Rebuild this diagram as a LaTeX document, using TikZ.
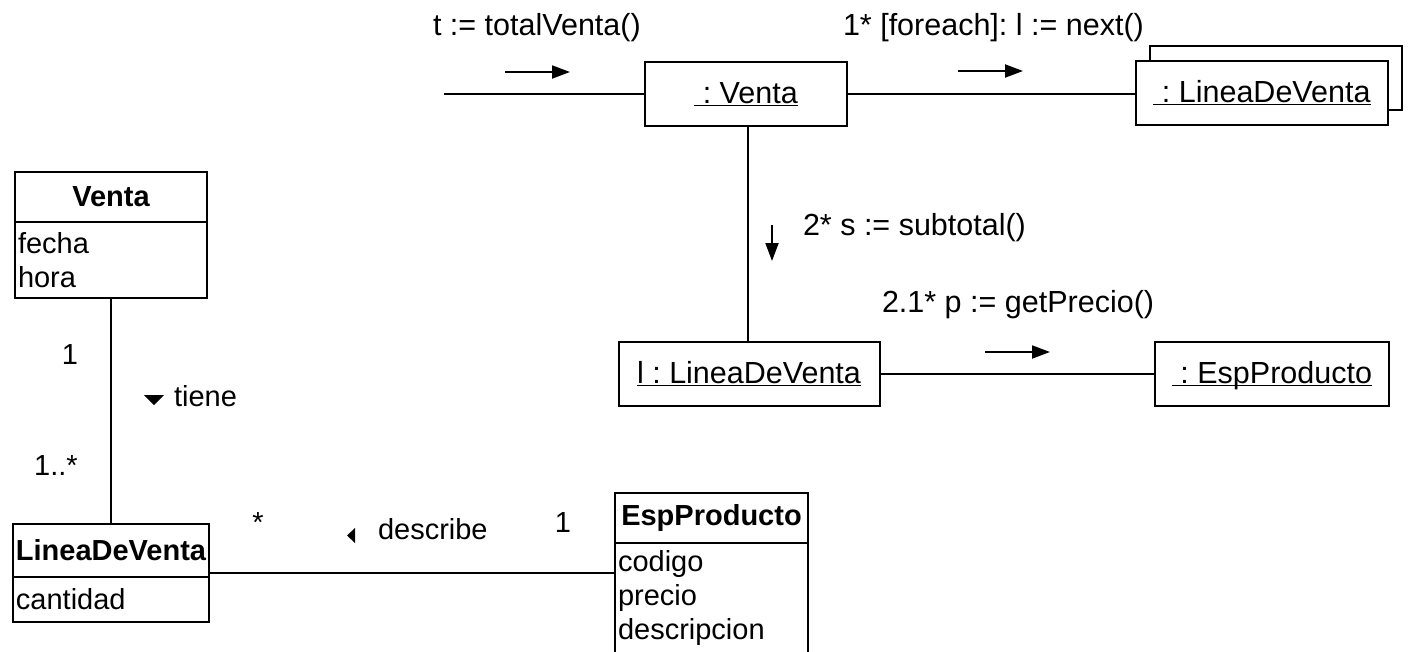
\documentclass[tikz,border=0pt]{standalone}
\usepackage{fontspec}
\setmainfont{Liberation Sans}
\usetikzlibrary{arrows.meta,positioning}
\frenchspacing

\newcommand{\objname}[1]{\underline{\smash{#1}\vphantom{A}}}

\begin{document}
\begin{tikzpicture}[x=1pt, y=-1pt, line width=2pt,
    every node/.style={font=\fontsize{29}{34}\selectfont, inner sep=0pt, outer sep=0pt},
    obj/.style={draw, fill=white, minimum width=#1, minimum height=64, font=\fontsize{30.5}{34}\selectfont},
    classhead/.style={draw, anchor=north west, font=\fontsize{29}{34}\selectfont\bfseries},
    classbody/.style={draw, anchor=north west, align=left, inner xsep=3pt},
    msg/.style={-{Triangle[length=18pt,width=13pt]}},
    lbl/.style={anchor=base west},
    msglbl/.style={anchor=base west, font=\fontsize{30.5}{34}\selectfont}]
    \useasboundingbox (0,0) rectangle (1408,651);

    % objetos de la colaboracion
    \node[obj=202] (venta) at (746,94) {\objname{\ : Venta}};
    \node[obj=252, anchor=north west] (lineasfondo) at (1150,46) {};
    \node[obj=252, anchor=north west] (lineas) at (1136,61) {\objname{\ : LineaDeVenta}};
    \node[obj=261] (linea) at (749,374) {\objname{l : LineaDeVenta}};
    \node[obj=234] (esp) at (1272,374) {\objname{\ : EspProducto}};
    \coordinate (inicio) at (444,94);

    \draw (inicio) -- (venta);
    \draw (venta) -- (venta -| lineas.west);
    \draw (venta.south -| 748,0) -- (linea.north -| 748,0);
    \draw (linea) -- (esp);

    % mensajes
    \node[msglbl] (mtotal) at (433,35) {t := totalVenta()};
    \node[msglbl] (mnext) at (843,35) {1* [foreach]: l := next()};
    \node[msglbl] (msub) at (803,235) {2* s := subtotal()};
    \node[msglbl] (mprecio) at (882,312) {2.1* p := getPrecio()};
    \foreach \xa/\ya/\xb/\yb in {505/72/570/72, 958/71/1023/71, 772/225/772/261, 985/352/1050/352} {
        \draw[msg] (\xa,\ya) -- (\xb,\yb);
    }

    % modelo de clases
    \node[classhead, minimum width=192, minimum height=50] (cventa) at (15,172) {Venta};
    \node[classbody, text width=186, minimum height=76] (cventaattr) at (cventa.south west) {fecha\\hora};
    \node[classhead, minimum width=196, minimum height=53] (clinea) at (13,524) {LineaDeVenta};
    \node[classbody, text width=190, minimum height=45] (clineaattr) at (clinea.south west) {cantidad};
    \node[classhead, minimum width=193, minimum height=50] (cesp) at (615,493) {EspProducto};
    \node[classbody, text width=187, minimum height=110] (cespattr) at (cesp.south west) {codigo\\precio\\descripcion};

    \draw (cventaattr.south) -- (clinea.north);
    \draw ([yshift=4pt]clinea.south east) -- ([yshift=4pt]clinea.south east -| cesp.west);

    \node[anchor=base] (mult1) at (70,364) {1};
    \node[anchor=base] (mult2) at (56,475) {1..*};
    \node[anchor=base] (mult3) at (258,532) {*};
    \node[anchor=base] (mult4) at (563,532) {1};
    \node[lbl] (tiene) at (174,406) {tiene};
    \fill (144,395) -- (164,395) -- (154,405) -- cycle;
    \node[lbl] (describe) at (378,539) {describe};
    \fill (355,528) -- (355,543) -- (347,535.5) -- cycle;
\end{tikzpicture}
\end{document}
